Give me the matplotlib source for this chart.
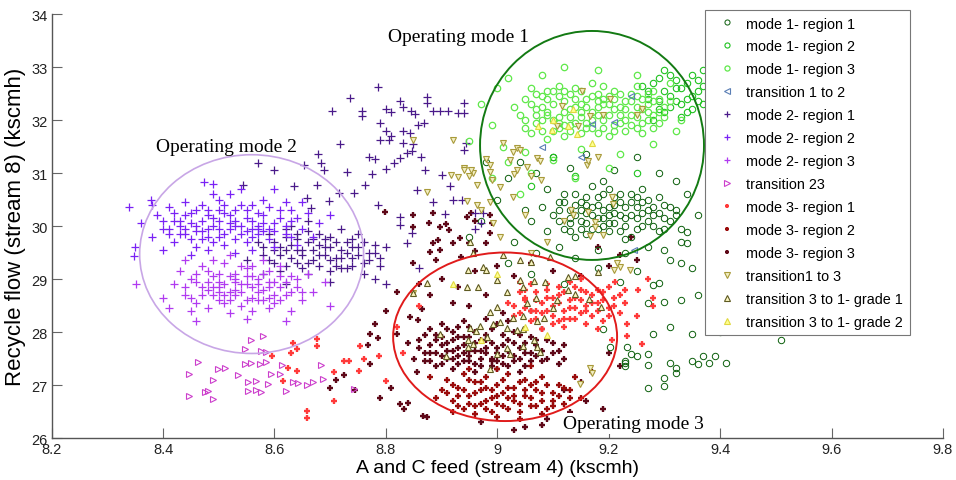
import matplotlib
matplotlib.use("Agg")
import matplotlib.pyplot as plt
from matplotlib.patches import Ellipse
import numpy as np

# ---------------- data ----------------
m1r1 = [(9.10,30.2),(9.11,30.45),(9.12,29.95),(9.13,30.3),(9.14,30.6),(9.15,30.1),(9.16,29.85),(9.16,30.4),
        (9.17,30.2),(9.18,30.55),(9.18,29.95),(9.19,30.3),(9.20,30.05),(9.20,30.7),(9.21,30.25),(9.22,29.9),
        (9.22,30.45),(9.23,30.15),(9.24,30.6),(9.24,29.8),(9.25,30.35),(9.26,30.0),(9.27,30.5),(9.28,30.2),
        (9.29,29.9),(9.30,30.4),(9.31,30.1),(9.12,30.6),(9.14,29.8),(9.15,30.45),(9.17,30.75),(9.19,30.0),
        (9.21,30.55),(9.23,29.75),(9.25,30.15),(9.27,30.3),(9.13,30.05),(9.19,30.85),(9.26,30.7),(9.29,30.55),
        (9.32,30.3),(9.08,30.35),(9.09,29.9),(9.33,29.95),(9.06,30.1),
        (9.00,30.5),(9.02,30.9),(9.03,29.7),(9.04,31.2),(9.05,30.3),(9.07,29.5),(9.07,31.0),(9.09,30.7),
        (9.10,31.3),(9.11,29.6),(9.13,31.1),(9.14,29.4),(9.16,31.35),(9.18,29.55),(9.21,31.05),(9.23,29.5),
        (9.25,31.3),(9.27,29.6),(9.29,31.0),(9.30,29.55),(9.32,30.85),(9.33,29.7),(9.34,30.6),(8.97,30.1),
        (8.98,31.2),(9.02,29.3),(9.06,29.1),(9.36,30.2),(9.35,29.2),(9.12,28.9),(9.18,29.2),(8.95,29.8),
        (9.31,29.36),(9.33,29.30),(9.34,29.68),(9.36,28.69),(9.28,28.88),(9.29,28.92),(9.27,28.54),(9.30,28.56),
        (9.33,28.60),(9.31,28.09),(9.28,27.97),(9.35,27.97),(9.24,27.59),(9.25,27.55),(9.27,27.59),(9.27,27.37),
        (9.23,27.42),(9.31,27.42),(9.35,27.46),(9.37,27.55),(9.38,27.42),(9.39,27.55),(9.41,27.42),(9.32,27.23),
        (9.30,27.14),(9.27,26.95),(9.30,26.99),(9.32,27.33),(9.36,27.39),(9.34,29.88),(9.32,30.21),(9.51,27.84),
        (9.38,28.25),(9.40,28.0),(9.22,28.95),(9.25,29.15),(9.233,27.71),(9.23,27.46),(9.23,27.35),(9.203,27.71),
        (9.19,28.05)]
m1r1_dense = [(9.11,30.10),(9.11,30.30),(9.12,30.45),(9.13,30.15),(9.13,29.90),(9.14,30.40),(9.14,30.20),(9.15,29.95),
        (9.15,30.30),(9.16,30.55),(9.16,30.05),(9.17,30.35),(9.17,29.95),(9.18,30.15),(9.18,30.40),(9.19,30.60),
        (9.19,30.15),(9.20,29.90),(9.20,30.35),(9.21,30.05),(9.21,30.40),(9.22,30.20),(9.22,30.60),(9.23,30.00),
        (9.23,30.35),(9.24,30.20),(9.24,30.45),(9.25,29.95),(9.25,30.55),(9.26,30.25),(9.26,30.45),(9.27,30.10),
        (9.28,30.35),(9.28,30.00),(9.29,30.25),(9.30,30.15),(9.31,30.35),(9.30,29.95),(9.16,30.25),(9.20,30.20)]

m1r2 = [(9.27,32.4),(9.28,32.7),(9.29,32.2),(9.30,32.55),(9.31,32.85),(9.32,32.35),(9.33,32.6),(9.34,32.15),
        (9.35,32.45),(9.36,32.75),(9.37,32.3),(9.38,32.55),(9.39,32.9),(9.40,32.2),(9.41,32.5),(9.42,32.7),
        (9.43,32.35),(9.44,32.6),(9.30,32.95),(9.33,32.05),(9.35,32.85),(9.38,32.1),(9.41,32.8),(9.45,32.45),
        (9.28,32.0),(9.32,32.75),(9.36,32.55),(9.40,32.4),(9.26,32.65),(9.34,32.4),(9.37,32.95),(9.31,32.25),
        (9.10,31.3),(9.25,31.0),(9.06,30.75),(9.14,30.95)]
m1r2_dense = [(9.27,32.55),(9.29,32.35),(9.29,32.80),(9.30,32.15),(9.31,32.45),(9.32,32.60),(9.33,32.30),(9.34,32.70),
        (9.35,32.20),(9.36,32.35),(9.37,32.65),(9.38,32.40),(9.39,32.25),(9.39,32.70),(9.40,32.60),(9.42,32.25),
        (9.43,32.50),(9.44,32.80),(9.45,32.30),(9.46,32.60)]

m1r3 = [(9.04,32.10),(9.06,32.30),(9.07,31.95),(9.08,32.45),(9.09,32.15),(9.10,31.80),(9.10,32.55),(9.11,32.05),
        (9.12,32.35),(9.13,31.90),(9.13,32.20),(9.14,32.60),(9.15,31.75),(9.15,32.05),(9.16,32.40),(9.17,32.15),
        (9.17,31.85),(9.18,32.50),(9.19,32.00),(9.19,32.30),(9.20,31.70),(9.21,32.20),(9.21,32.55),(9.22,31.95),
        (9.23,32.35),(9.24,32.10),(9.25,31.85),(9.25,32.45),(9.26,32.20),(9.27,32.00),(9.28,32.35),(9.29,32.15),
        (9.05,31.85),(9.06,32.60),(9.08,32.00),(9.09,32.40),(9.11,32.65),(9.12,31.70),(9.14,32.25),(9.16,31.95),
        (9.18,32.25),(9.20,32.45),(9.22,32.10),(9.24,32.50),(9.26,31.75),(9.28,32.55),(9.30,32.25),(9.03,32.25),
        (9.07,32.20),(9.13,32.50),(9.15,32.30),(9.19,32.65),(9.23,31.80),(9.27,32.30),(9.11,31.95),(9.17,32.70),
        (9.21,31.90),(9.09,31.65),(9.25,32.65),(9.29,31.95),
        (8.97,32.3),(8.99,31.9),(9.00,32.6),(9.01,31.5),(9.02,32.8),(9.05,31.4),(9.08,32.85),(9.12,33.0),
        (9.15,31.45),(9.18,32.95),(9.22,31.35),(9.25,32.85),(9.28,31.55),(9.31,32.7),(9.32,31.8),(9.02,31.2),
        (9.06,31.0),(9.10,31.25),(8.95,31.6),(9.14,30.9),(9.20,31.1),(9.33,32.0),(9.04,30.6),(8.99,30.9)]
m1r3_dense = [(9.05,32.00),(9.05,32.40),(9.06,31.75),(9.07,32.50),(9.07,32.10),(9.08,31.80),(9.08,32.25),(9.09,32.55),
        (9.10,32.00),(9.10,32.30),(9.11,31.85),(9.11,32.45),(9.12,32.15),(9.12,32.55),(9.13,31.80),(9.13,32.05),
        (9.14,32.40),(9.14,31.95),(9.15,32.15),(9.15,32.55),(9.16,31.85),(9.16,32.25),(9.17,32.45),(9.17,32.00),
        (9.18,31.75),(9.18,32.10),(9.19,32.40),(9.19,31.85),(9.20,32.10),(9.20,32.30),(9.21,32.40),(9.21,31.80),
        (9.22,32.25),(9.22,32.50),(9.23,32.00),(9.23,32.20),(9.24,31.90),(9.24,32.35),(9.25,32.05),(9.25,32.25),
        (9.26,32.40),(9.26,31.95),(9.27,32.15),(9.27,32.50),(9.28,31.85),(9.28,32.10),(9.29,32.40),(9.30,32.05),
        (9.31,32.35),(9.09,32.10),(9.12,31.90),(9.18,32.35)]

t12 = [(9.24,32.45),(9.17,31.92),(9.21,31.97),(9.15,31.30),(9.245,29.55),(9.08,31.5)]

m2r1 = [(8.57,29.70),(8.58,29.45),(8.59,29.85),(8.60,29.30),(8.61,29.60),(8.62,29.95),(8.63,29.40),(8.64,29.75),
        (8.65,29.20),(8.65,29.55),(8.66,29.90),(8.67,29.35),(8.68,29.65),(8.69,29.45),(8.70,29.80),(8.71,29.25),
        (8.72,29.55),(8.73,29.70),(8.74,29.40),(8.75,29.60),(8.76,29.30),(8.77,29.50),(8.78,29.65),(8.62,29.25),
        (8.64,29.55),(8.66,29.10),(8.68,29.85),(8.70,29.15),(8.72,29.95),(8.74,29.75),(8.76,29.10),(8.63,30.00),
        (8.69,29.60),(8.71,29.40),(8.60,29.55),(8.67,29.75),(8.73,29.20),(8.79,29.40),(8.80,29.60),(8.58,29.10),
        (8.55,29.35),(8.66,30.10),(8.75,29.85),(8.78,29.00),(8.70,28.95),(8.62,28.90),
        (8.785,32.63),(8.735,32.41),(8.704,32.17),(8.757,32.17),(8.757,32.08),(8.80,32.20),(8.81,32.16),(8.826,32.35),
        (8.83,32.25),(8.845,32.17),(8.852,32.12),(8.874,32.43),(8.874,32.33),(8.885,32.17),(8.897,32.17),(8.912,32.17),
        (8.94,32.33),(8.94,32.14),(8.93,32.14),(8.79,31.95),(8.80,31.79),(8.79,31.63),(8.805,31.63),(8.81,31.69),
        (8.83,31.79),(8.843,31.76),(8.857,31.91),(8.869,31.95),(8.83,31.57),(8.849,31.54),(8.846,31.41),(8.863,31.31),
        (8.838,31.38),(8.826,31.28),(8.814,31.19),(8.80,31.08),(8.78,31.27),(8.77,31.31),(8.718,31.55),(8.679,31.35),
        (8.683,31.19),(8.689,31.06),(8.653,31.16),(8.731,31.02),(8.775,30.98),(8.763,30.78),(8.742,30.63),(8.715,30.63),
        (8.697,30.47),(8.677,30.78),(8.659,30.53),(8.635,30.75),(8.665,30.34),(8.785,30.40),(8.826,30.17),(8.826,30.01),
        (8.838,29.68),(8.847,29.87),(8.885,30.45),(8.906,30.23),(8.92,30.49),(8.96,30.25),(8.936,30.49),(8.90,30.97),
        (8.87,31.06),(8.915,30.75),(8.855,30.67),(8.943,31.57),(8.94,31.44),(8.97,30.06),(8.975,30.25),(8.96,29.95),
        (8.571,31.19),(8.60,31.05),(8.543,30.78),(8.80,28.90),(8.86,29.20)]
m2r1_dense = [(8.58,29.60),(8.59,29.35),(8.60,29.70),(8.61,29.45),(8.62,29.80),(8.62,29.55),(8.63,29.65),(8.64,29.30),
        (8.64,29.85),(8.65,29.45),(8.66,29.70),(8.66,29.30),(8.67,29.55),(8.68,29.25),(8.68,29.45),(8.69,29.75),
        (8.70,29.35),(8.70,29.60),(8.71,29.70),(8.72,29.40),(8.72,29.20),(8.73,29.50),(8.74,29.60),(8.74,29.25),
        (8.75,29.45),(8.76,29.70),(8.77,29.35),(8.78,29.50),(8.79,29.25),(8.61,29.15)]

m2r2 = [(8.36,30.05),(8.38,29.80),(8.39,30.20),(8.40,29.95),(8.41,30.35),(8.42,29.70),(8.43,30.10),(8.44,29.85),
        (8.45,30.25),(8.46,29.60),(8.46,30.00),(8.47,30.40),(8.48,29.80),(8.49,30.15),(8.50,29.95),(8.50,30.50),
        (8.51,29.65),(8.52,30.05),(8.53,30.30),(8.54,29.85),(8.55,30.15),(8.56,29.55),(8.56,30.40),(8.57,29.95),
        (8.58,30.20),(8.59,29.75),(8.60,30.05),(8.61,30.30),(8.62,29.85),(8.63,30.10),(8.64,29.65),(8.65,29.95),
        (8.66,30.25),(8.67,29.80),(8.68,30.05),(8.44,30.45),(8.48,29.55),(8.52,30.60),(8.55,29.70),(8.58,30.50),
        (8.42,30.10),(8.47,29.90),(8.51,30.25),(8.53,29.50),(8.57,30.00),(8.60,29.60),(8.62,30.45),(8.38,30.40),
        (8.35,29.60),(8.40,29.55),(8.45,29.45),(8.49,30.60),(8.54,30.70),(8.60,30.70),(8.65,30.45),(8.70,30.20),
        (8.48,30.30),(8.53,30.00),(8.56,29.80),(8.44,29.95),(8.50,29.80),(8.59,29.95),(8.63,30.30),(8.41,29.85),
        (8.338,30.36),(8.347,29.43),(8.379,30.49),(8.473,30.83),(8.49,30.80)]
m2r2_dense = [(8.40,30.10),(8.41,29.95),(8.42,30.25),(8.43,29.85),(8.43,30.00),(8.44,30.20),(8.45,29.75),(8.45,30.05),
        (8.46,30.30),(8.47,29.75),(8.47,30.10),(8.48,29.95),(8.48,30.20),(8.49,29.70),(8.49,30.00),(8.50,30.30),
        (8.50,30.10),(8.51,29.85),(8.51,30.40),(8.52,29.95),(8.52,30.20),(8.53,29.75),(8.53,30.10),(8.54,30.00),
        (8.54,30.40),(8.55,29.90),(8.55,30.30),(8.56,30.10),(8.57,29.85),(8.57,30.25),(8.58,29.90),(8.58,30.05),
        (8.59,30.35),(8.60,29.90),(8.61,30.15),(8.62,30.00),(8.63,29.80),(8.64,30.15),(8.46,29.90),(8.56,29.95)]

m2r3 = [(8.42,28.90),(8.43,29.15),(8.44,28.70),(8.45,29.00),(8.46,28.55),(8.47,29.25),(8.48,28.80),(8.49,29.05),
        (8.50,28.60),(8.50,28.95),(8.51,29.30),(8.52,28.75),(8.53,29.10),(8.54,28.50),(8.54,28.90),(8.55,29.20),
        (8.56,28.65),(8.57,29.00),(8.58,28.80),(8.59,29.15),(8.60,28.55),(8.60,28.95),(8.61,29.25),(8.62,28.70),
        (8.63,29.05),(8.64,28.85),(8.65,28.60),(8.66,29.10),(8.45,28.40),(8.48,28.45),(8.52,28.35),(8.56,28.40),
        (8.59,28.45),(8.63,28.40),(8.47,28.85),(8.51,28.70),(8.53,29.00),(8.56,28.85),(8.58,29.35),(8.61,28.85),
        (8.49,29.35),(8.44,29.35),(8.40,28.65),(8.41,28.45),(8.67,28.75),(8.69,28.95),(8.70,28.50),(8.55,28.25),
        (8.62,28.20),(8.46,28.20),(8.52,29.45),(8.57,28.60),(8.53,28.80),(8.50,28.85),(8.55,29.05),(8.46,28.95),
        (8.59,28.65),(8.351,28.90)]
m2r3_dense = [(8.44,28.85),(8.45,28.65),(8.46,29.10),(8.47,28.70),(8.48,28.95),(8.48,29.15),(8.49,28.70),(8.49,28.85),
        (8.50,29.10),(8.51,28.55),(8.51,28.90),(8.52,29.05),(8.52,28.60),(8.53,28.70),(8.53,28.95),(8.54,29.25),
        (8.54,28.75),(8.55,28.60),(8.55,28.90),(8.56,29.05),(8.57,28.75),(8.57,28.90),(8.58,29.10),(8.58,28.60),
        (8.59,28.85),(8.59,28.95),(8.60,28.70),(8.61,29.05),(8.61,28.60),(8.62,28.95),(8.63,28.75),(8.64,29.00),
        (8.65,28.75),(8.50,28.75),(8.56,29.25)]

t23 = [(8.557,27.84),(8.548,27.67),(8.575,27.65),(8.584,27.63),(8.462,27.44),(8.548,27.40),(8.557,27.42),(8.574,27.40),
       (8.584,27.43),(8.614,27.37),(8.498,27.31),(8.512,27.33),(8.446,27.21),(8.535,27.19),(8.593,27.21),(8.610,27.20),
       (8.49,27.10),(8.553,27.06),(8.567,27.08),(8.588,27.02),(8.634,27.06),(8.643,27.03),(8.67,27.06),(8.658,27.00),
       (8.688,27.12),(8.683,27.38),(8.742,26.93),(8.553,26.89),(8.567,26.90),(8.576,26.86),(8.62,26.89),(8.481,26.89),
       (8.475,26.86),(8.446,26.80),(8.49,26.74),(8.58,27.93)]

m3r1 = [(9.02,28.55),(9.03,28.30),(9.04,28.75),(9.05,28.45),(9.06,28.20),(9.06,28.90),(9.07,28.60),(9.08,28.35),
        (9.09,28.80),(9.10,28.50),(9.10,28.15),(9.11,28.70),(9.12,28.40),(9.13,28.95),(9.13,28.60),(9.14,28.25),
        (9.15,28.80),(9.16,28.50),(9.17,28.30),(9.17,28.70),(9.18,28.55),(9.19,28.20),(9.20,28.85),(9.20,28.45),
        (9.21,28.65),(9.22,28.35),(9.08,28.05),(9.12,28.10),(9.15,29.00),(9.04,28.95),(9.09,28.65),(9.14,28.45),
        (9.18,28.05),(9.23,28.55),(9.11,28.85),(9.05,28.65),(9.16,28.15),(9.19,28.75),(9.07,28.40),(9.13,28.25),
        (8.634,27.80),(8.641,27.67),(8.677,27.86),(8.677,27.74),(8.625,27.33),(8.641,27.27),(8.616,27.08),(8.706,27.25),
        (8.724,27.46),(8.734,27.46),(8.706,26.70),(8.659,26.51),(8.659,26.38),(8.754,27.74),(8.76,27.50),(8.751,27.27),
        (8.80,27.08),(8.787,27.54),(9.23,28.79),(9.253,28.79),(9.28,28.65),(9.28,28.50),(9.233,28.16),(9.233,27.93),
        (9.26,27.78),(9.205,27.85),(9.212,28.95),(8.595,27.55),(8.63,27.60),(8.83,27.60),(8.82,28.10),(8.86,28.50),
        (9.25,28.30),(9.27,29.0)]
m3r1_dense = [(9.03,28.50),(9.04,28.35),(9.05,28.60),(9.05,28.80),(9.06,28.40),(9.07,28.75),(9.07,28.25),(9.08,28.55),
        (9.09,28.40),(9.09,28.90),(9.10,28.65),(9.10,28.30),(9.11,28.55),(9.12,28.75),(9.12,28.25),(9.13,28.45),
        (9.14,28.65),(9.14,28.85),(9.15,28.35),(9.15,28.60),(9.16,28.75),(9.16,28.40),(9.17,28.55),(9.18,28.40),
        (9.18,28.80),(9.19,28.60),(9.20,28.30),(9.21,28.50),(9.22,28.70),(9.11,28.20)]

m3r2 = [(8.90,26.90),(8.91,27.10),(8.92,26.70),(8.93,26.95),(8.94,27.20),(8.94,26.55),(8.95,26.80),(8.96,27.05),
        (8.97,26.65),(8.97,26.90),(8.98,27.15),(8.99,26.50),(8.99,26.75),(9.00,27.00),(9.01,26.60),(9.01,26.85),
        (9.02,27.20),(9.03,26.70),(9.03,26.95),(9.04,26.50),(9.05,26.80),(9.05,27.10),(9.06,26.60),(9.07,26.90),
        (9.08,26.70),(9.08,27.15),(9.09,26.55),(9.10,26.85),(9.11,27.00),(9.12,26.65),(9.13,26.90),(8.92,26.50),
        (8.96,26.45),(9.00,26.40),(9.04,26.35),(9.08,26.45),(8.95,27.30),(9.00,27.30),(9.06,27.35),(8.88,27.15),
        (8.89,26.75),(9.14,27.15),(9.15,26.75),(9.02,26.75),(8.98,26.95),(9.06,27.00),(8.93,26.80),(9.10,26.70)]
m3r2_dense = [(8.91,26.85),(8.92,27.00),(8.93,26.60),(8.94,26.90),(8.95,26.65),(8.95,27.10),(8.96,26.85),(8.96,26.60),
        (8.97,27.05),(8.98,26.70),(8.98,26.55),(8.99,26.90),(9.00,26.65),(9.00,26.80),(9.01,27.10),(9.02,26.55),
        (9.02,26.95),(9.03,26.80),(9.04,26.65),(9.04,27.05),(9.05,26.90),(9.06,26.75),(9.07,26.60),(9.07,27.05),
        (9.08,26.85),(9.09,27.00),(9.10,26.60),(9.11,26.80),(9.12,26.95),(9.13,26.75)]

m3r3 = [(8.86,27.70),(8.87,27.45),(8.87,27.95),(8.88,27.60),(8.89,27.85),(8.89,27.35),(8.90,27.75),(8.91,28.05),
        (8.91,27.50),(8.92,27.65),(8.93,27.90),(8.93,27.40),(8.94,27.75),(8.95,28.10),(8.95,27.55),(8.96,27.80),
        (8.97,27.35),(8.97,27.65),(8.98,27.95),(8.99,27.50),(8.99,27.80),(9.00,28.15),(9.00,27.60),(9.01,27.40),
        (9.02,27.85),(9.03,27.55),(9.03,28.00),(9.04,27.70),(9.05,27.35),(9.06,27.90),(9.06,27.60),(9.07,27.75),
        (9.08,27.45),(9.09,27.85),(9.10,27.60),(9.11,27.40),(9.12,27.75),(8.88,28.05),(8.90,28.15),(8.94,28.20),
        (8.98,28.25),(9.02,28.20),(8.92,27.30),(8.96,27.25),(9.00,27.30),(9.04,27.25),(8.85,27.50),(8.84,27.80),
        (8.95,27.45),(8.98,27.70),(9.01,27.95),(9.05,27.80),(8.92,27.85),(8.96,28.00),(9.08,28.05),(8.90,27.55),
        (9.03,27.45),(8.94,27.60),(8.99,27.45),(9.07,27.55),
        (8.799,30.27),(8.849,30.21),(8.885,30.25),(8.849,29.98),(8.877,30.05),(8.898,29.98),(8.907,30.03),(8.913,29.93),
        (8.946,30.17),(8.953,30.25),(8.96,30.10),(8.987,30.21),(8.99,30.05),(8.885,29.68),(8.893,29.74),(8.897,29.55),
        (8.921,29.68),(8.933,29.77),(8.95,29.68),(8.96,29.52),(8.98,29.68),(8.987,29.87),(8.88,29.51),(8.849,29.30),
        (8.89,29.35),(8.934,29.41),(8.772,27.97),(8.785,27.88),(8.768,27.75),(8.772,27.40),(8.724,27.18),(8.82,27.97),
        (8.826,26.64),(8.833,26.55),(8.84,26.66),(8.867,26.42),(8.874,26.40),(8.844,28.28),(8.857,28.23),(8.864,28.44),
        (8.855,27.25),(8.80,28.40),(8.82,28.75),(8.86,28.90),(8.90,29.00),(8.93,28.85),(8.96,29.15),(9.00,29.25),
        (9.03,29.05),(9.06,29.30),(9.10,29.15),(9.15,29.05),(9.20,29.25),(9.22,29.45),(9.18,29.60),(9.25,29.35),
        (9.15,27.05),(9.12,26.90),(9.17,27.25),(9.16,26.70),(9.13,26.50),(9.09,26.35),(9.05,26.20),(9.03,26.15),
        (9.08,26.25),(8.97,26.30),(9.19,26.55),(9.20,27.60),(9.22,27.35),(8.70,26.95),(8.745,26.90),(8.79,26.75),
        (8.81,26.95),(8.78,28.15),(8.71,27.10),(9.01,28.35),(9.06,28.40),(8.95,28.50),(8.98,28.70),(8.92,28.55),
        (8.88,28.70),(9.24,29.80)]
m3r3_dense = [(8.86,27.85),(8.87,27.60),(8.88,27.75),(8.88,27.45),(8.89,27.95),(8.89,27.60),(8.90,27.40),(8.90,27.90),
        (8.91,27.65),(8.91,27.80),(8.92,27.50),(8.92,28.00),(8.93,27.70),(8.93,27.55),(8.94,27.90),(8.94,27.45),
        (8.95,27.65),(8.95,27.90),(8.96,27.40),(8.96,27.65),(8.97,27.85),(8.97,27.50),(8.98,27.60),(8.98,27.85),
        (8.99,27.35),(8.99,28.05),(9.00,27.70),(9.00,27.45),(9.01,27.75),(9.01,27.55),(9.02,27.65),(9.02,27.35),
        (9.03,27.80),(9.04,27.50),(9.04,27.95),(9.05,27.60),(9.06,27.45),(9.07,27.85),(9.08,27.65),(9.09,27.50),
        (9.10,27.80),(9.11,27.65),(9.12,27.50),(8.93,28.10),(9.05,28.05)]

t13 = [(9.029,31.40),(9.035,31.47),(9.04,31.43),(9.011,31.57),(9.072,31.29),(9.076,31.22),(9.054,31.12),(9.06,30.95),
       (9.023,31.25),(8.991,30.87),(8.957,31.0),(8.953,31.05),(8.94,31.10),(9.03,30.98),(9.036,31.05),(9.005,30.74),
       (9.029,30.55),(8.97,30.30),(8.993,30.06),(9.005,29.79),(9.136,30.21),(9.133,30.30),(9.176,30.08),(9.175,29.98),
       (9.206,30.55),(9.207,30.42),(9.19,29.83),(9.167,29.81),(9.078,30.87),(9.161,31.16),(9.163,31.22),(9.18,31.31),
       (9.152,32.54),(9.203,32.39),(9.117,32.26),(9.167,32.07),(9.19,32.09),(9.251,32.10),(9.26,32.20),(9.108,31.88),
       (9.145,31.88),(8.921,31.63),(8.849,31.63),(8.916,30.97),(8.94,31.06),(8.95,30.95),(8.93,30.92),(8.964,30.78),
       (8.946,30.47),(8.964,30.40),(8.987,30.45),(8.874,30.65),(8.987,31.02),(8.98,31.27),(8.987,31.15),(9.167,27.33),
       (9.17,27.22),(9.149,27.02),(9.238,29.17),(9.21,29.17),(8.849,28.73),(9.221,29.22),(9.215,29.30),(9.163,30.27),
       (9.12,30.10),(9.06,29.50),(9.09,29.70),(9.05,30.2)]

t31g1 = [(8.898,27.97),(8.948,27.84),(8.948,27.71),(8.907,27.54),(8.957,27.78),(8.982,27.90),(8.951,28.07),(8.969,28.12),
         (8.993,28.16),(9.018,28.07),(9.018,27.69),(9.023,27.59),(9.0,27.59),(8.987,27.31),(8.962,28.02),(9.036,28.03),
         (9.047,28.05),(9.047,27.74),(9.072,27.71),(9.076,27.63),(9.065,27.84),(9.005,28.18),(9.072,28.20),(9.083,28.27),
         (9.10,28.45),(9.108,28.60),(9.126,28.79),(9.14,28.72),(9.165,28.63),(9.187,28.47),(8.987,28.37),(9.029,28.27),
         (9.047,28.30),(9.0,28.47),(9.018,28.75),(9.047,28.84),(9.07,28.65),(9.054,28.54),(8.946,28.84),(8.874,28.92),
         (8.848,28.73),(8.965,28.84),(9.0,28.98),(9.04,28.98),(9.065,28.96),(9.085,28.94),(9.126,29.03),(9.14,29.05),
         (9.18,29.13),(8.948,29.17),(8.975,29.22),(8.98,29.17),(9.041,29.36),(9.06,29.33),(9.095,29.41),(9.01,29.45),
         (8.957,29.49),(8.951,29.70)]

t31g2 = [(9.136,32.20),(9.126,31.88),(9.099,31.82),(9.143,31.73),(9.073,31.88),(9.17,31.57),(9.10,32.00),(9.05,28.10),
         (9.09,27.95),(8.97,27.85),(9.0,29.1),(8.92,28.9)]

labels = ["mode 1- region 1", "mode 1- region 2", "mode 1- region 3", "transition 1 to 2",
          "mode 2- region 1", "mode 2- region 2", "mode 2- region 3", "transition 23",
          "mode 3- region 1", "mode 3- region 2", "mode 3- region 3", "transition1 to 3",
          "transition 3 to 1- grade 1", "transition 3 to 1- grade 2"]
series = [m1r1 + m1r1_dense, m1r2 + m1r2_dense, m1r3 + m1r3_dense, t12,
          m2r1 + m2r1_dense, m2r2 + m2r2_dense, m2r3 + m2r3_dense, t23,
          m3r1 + m3r1_dense, m3r2 + m3r2_dense, m3r3 + m3r3_dense, t13, t31g1, t31g2]

# ellipses: (center x, center y, width, height)
ell_mode1 = (9.170, 31.52, 0.402, 4.32)
ell_mode2 = (8.559, 29.47, 0.402, 3.75)
ell_mode3 = (9.014, 27.91, 0.402, 3.18)

annotations = [("Operating mode 1", 8.804, 33.58), ("Operating mode 2", 8.387, 31.50),
               ("Operating mode 3", 9.118, 26.28)]

# ---------------- styles ----------------
styles = [
    dict(marker='o', mfc='none', mec='#0b5e0b', ms=4.6, mew=0.7, zorder=3),
    dict(marker='o', mfc='none', mec='#1fc21f', ms=4.6, mew=0.8, zorder=3),
    dict(marker='o', mfc='none', mec='#5fe84a', ms=4.6, mew=0.9, zorder=4),
    dict(marker='<', mfc='none', mec='#5b7fb5', ms=4.6, mew=0.8, zorder=6),
    dict(marker='+', mfc='none', mec='#4a1a8a', ms=5.5, mew=0.9, zorder=3),
    dict(marker='+', mfc='none', mec='#7a22f5', ms=5.5, mew=0.9, zorder=3),
    dict(marker='+', mfc='none', mec='#b03af0', ms=5.5, mew=0.9, zorder=3),
    dict(marker='>', mfc='none', mec='#cc3fcc', ms=5.0, mew=0.8, zorder=3),
    dict(marker='+', mfc='none', mec='#ff3a3a', ms=4.4, mew=1.7, zorder=4),
    dict(marker='+', mfc='none', mec='#9a0c0c', ms=4.4, mew=1.7, zorder=3),
    dict(marker='+', mfc='none', mec='#5e0818', ms=4.4, mew=1.7, zorder=2),
    dict(marker='v', mfc='#f3efc3', mec='#a89a3a', ms=5.0, mew=0.8, zorder=5),
    dict(marker='^', mfc='#fbf6c0', mec='#5e5a22', ms=5.0, mew=0.8, zorder=5),
    dict(marker='^', mfc='#ffff90', mec='#e0d840', ms=5.0, mew=0.8, zorder=5),
]

plt.rcParams['font.family'] = ['Liberation Sans', 'DejaVu Sans']

fig = plt.figure(figsize=(9.56, 4.81), dpi=100)
ax = fig.add_axes([0.054, 0.0873, 0.9324, 0.8815])

for pts, lab, st in zip(series, labels, styles):
    xs = [p[0] for p in pts]
    ys = [p[1] for p in pts]
    ax.plot(xs, ys, linestyle='none', label=lab, **st)

for (cx, cy, w, h), col, lw in [(ell_mode1, '#137a13', 1.4), (ell_mode2, '#c8a6e6', 1.2), (ell_mode3, '#e01b1b', 1.4)]:
    ax.add_patch(Ellipse((cx, cy), w, h, fill=False, edgecolor=col, linewidth=lw, zorder=7))

for i, (txt, tx, ty) in enumerate(annotations):
    kw = dict(fontsize=14, family=['Liberation Serif', 'DejaVu Serif'], va='center', ha='left', zorder=8)
    if i == 2:
        kw['bbox'] = dict(facecolor='white', edgecolor='none', pad=1.5)
    ax.text(tx, ty, txt, **kw)

ax.set_xlim(8.2, 9.8)
ax.set_ylim(26, 34)
ax.set_xticks(np.arange(8.2, 9.81, 0.2))
ax.set_xticklabels(['8.2', '8.4', '8.6', '8.8', '9', '9.2', '9.4', '9.6', '9.8'])
ax.set_yticks(np.arange(26, 34.1, 1))
ax.tick_params(direction='in', length=7, width=0.8, color='#666666', labelsize=10.5, labelcolor='#222222')
ax.tick_params(axis='x', pad=3)
ax.tick_params(axis='y', pad=3)
for s in ['top', 'right']:
    ax.spines[s].set_visible(False)
for s in ['left', 'bottom']:
    ax.spines[s].set_color('#555555')
    ax.spines[s].set_linewidth(1.0)

ax.set_xlabel('A and C feed (stream 4) (kscmh)', fontsize=14, labelpad=2)
ax.set_ylabel('Recycle flow (stream 8) (kscmh)', fontsize=16, labelpad=4)

leg = ax.legend(loc='upper left', bbox_to_anchor=(705/956, 1 - 11/481), bbox_transform=fig.transFigure,
                borderaxespad=0, fontsize=10.4, labelspacing=0.62, handlelength=2.2, handletextpad=0.2,
                borderpad=0.45, fancybox=False, framealpha=1, edgecolor='#777777', markerscale=0.8)
leg.get_frame().set_linewidth(0.8)
leg.set_zorder(20)

fig.savefig('out.png', dpi=100)
